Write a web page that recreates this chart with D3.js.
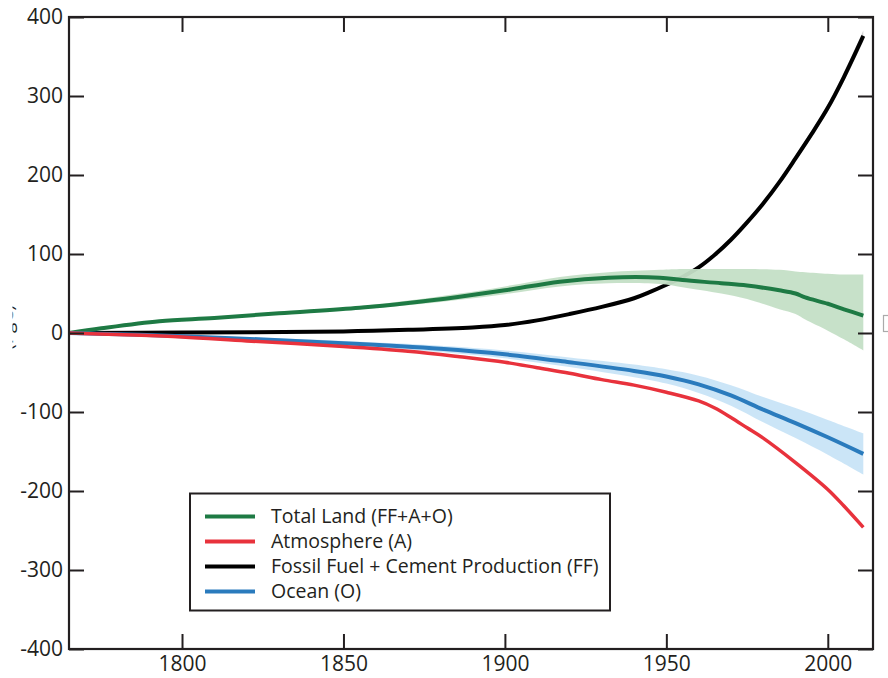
<!DOCTYPE html>
<html>
<head>
<meta charset="utf-8">
<script src="https://cdn.jsdelivr.net/npm/d3@7"></script>
<style>
  html, body { margin: 0; padding: 0; background: #fff; }
  svg { display: block; }
  text { font-family: "Open Sans", "Liberation Sans", sans-serif; fill: #231f20; }
</style>
</head>
<body>
<svg id="chart" width="888" height="678"></svg>
<script>
// ---- data ----
const xTicks = [1800, 1850, 1900, 1950, 2000];
const yTicks = [-400, -300, -200, -100, 0, 100, 200, 300, 400];

const ffYears  = [1765, 1800, 1850, 1870, 1890, 1900, 1910, 1920, 1930, 1940, 1945, 1950, 1955, 1960, 1965, 1970, 1975, 1980, 1985, 1990, 1995, 2000, 2005, 2011];
const ffValues = [0, 0.5, 2, 4, 7, 10, 16, 24, 33, 44, 52, 61, 71, 83, 99, 118, 140, 164, 191, 221, 252, 285, 324, 376];
const ffErr    = [0, 0, 0, 0, 0, 0, 0, 0, 0, 0, 1, 1, 1, 2, 2, 2, 3, 3, 3, 4, 4, 5, 6, 7];

const landYears  = [1765, 1775, 1793, 1810, 1830, 1855, 1870, 1886, 1900, 1917, 1932, 1948, 1955, 1967, 1975, 1985, 1990, 1993, 2000, 2005, 2011];
const landValues = [0, 6, 15, 19, 25, 32, 38, 46, 54, 65, 70, 70, 67, 63, 60, 54, 50, 45, 37, 30, 22];
const landUpper  = [0, 6, 15, 20, 26, 34, 41, 50, 59, 71, 77, 80, 81, 81, 81, 80, 78, 77, 75, 74, 74];
const landLower  = [0, 6, 15, 18, 24, 30, 35, 42, 49, 59, 63, 62, 58, 50, 43, 30, 24, 17, 3, -8, -22];

const atmYears  = [1765, 1780, 1800, 1820, 1850, 1870, 1886, 1900, 1910, 1920, 1930, 1940, 1950, 1960, 1965, 1970, 1975, 1980, 1990, 2000, 2005, 2011];
const atmValues = [0, -2, -5, -10, -17, -23, -30, -37, -44, -51, -59, -66, -75, -86, -95, -107, -120, -133, -164, -198, -219, -246];

const oceYears  = [1765, 1800, 1850, 1880, 1900, 1920, 1940, 1950, 1960, 1970, 1980, 1990, 2000, 2011];
const oceValues = [0, -4, -13, -20, -27, -37, -48, -55, -65, -79, -97, -114, -132, -153];
const oceErr    = [0, 1, 3, 4, 5, 6, 8, 9, 11, 13, 16, 19, 22, 26];

const legendLabels = ["Total Land (FF+A+O)", "Atmosphere (A)", "Fossil Fuel + Cement Production (FF)", "Ocean (O)"];
const legendColors = ["#1e7a44", "#e8323c", "#000000", "#2a7bbd"];

// ---- layout ----
const svg = d3.select("#chart");
const x = d3.scaleLinear().domain([1765, 2014]).range([69, 873]);
const y = d3.scaleLinear().domain([-400, 400]).range([649, 17]);

const defs = svg.append("defs");
defs.append("clipPath").attr("id", "plot")
  .append("rect").attr("x", 69).attr("y", 17).attr("width", 804).attr("height", 632);
defs.append("clipPath").attr("id", "titleclip")
  .append("rect").attr("x", 12.5).attr("y", 0).attr("width", 40).attr("height", 678);

const plot = svg.append("g").attr("clip-path", "url(#plot)");

function rows(years, vals, lo, hi) {
  return years.map((yr, i) => ({ yr, v: vals[i], lo: lo ? lo[i] : null, hi: hi ? hi[i] : null }));
}
const curve = d3.curveCatmullRom.alpha(0.5);
const line = d3.line().x(d => x(d.yr)).y(d => y(d.v)).curve(curve);
const area = d3.area().x(d => x(d.yr)).y0(d => y(d.lo)).y1(d => y(d.hi)).curve(curve);

const ff = rows(ffYears, ffValues, ffValues.map((v, i) => v - ffErr[i]), ffValues.map((v, i) => v + ffErr[i]));
const land = rows(landYears, landValues, landLower, landUpper);
const atm = rows(atmYears, atmValues);
const oce = rows(oceYears, oceValues, oceValues.map((v, i) => v - oceErr[i]), oceValues.map((v, i) => v + oceErr[i]));

// fossil fuel band + line
plot.append("path").datum(ff).attr("d", area).attr("fill", "#d6d6d6");
plot.append("path").datum(ff).attr("d", line).attr("fill", "none").attr("stroke", legendColors[2]).attr("stroke-width", 4);
// land band + line
plot.append("path").datum(land).attr("d", area).attr("fill", "#c4dfc6").attr("opacity", 0.95);
plot.append("path").datum(land).attr("d", line).attr("fill", "none").attr("stroke", legendColors[0]).attr("stroke-width", 4);
// ocean band + line
plot.append("path").datum(oce).attr("d", area).attr("fill", "#c8e4f7").attr("opacity", 0.95);
plot.append("path").datum(oce).attr("d", line).attr("fill", "none").attr("stroke", legendColors[3]).attr("stroke-width", 4);
// atmosphere line
plot.append("path").datum(atm).attr("d", line).attr("fill", "none").attr("stroke", legendColors[1]).attr("stroke-width", 3.5);

// ---- axes (inward ticks on all sides) ----
const tickLen = 15;
const fmt = d => String(d);
const axL = svg.append("g").attr("transform", "translate(69,0)")
  .call(d3.axisLeft(y).tickValues(yTicks).tickSize(-tickLen).tickPadding(6).tickFormat(fmt));
const axB = svg.append("g").attr("transform", "translate(0,649)")
  .call(d3.axisBottom(x).tickValues(xTicks).tickSize(-tickLen).tickPadding(7).tickFormat(fmt));
const axR = svg.append("g").attr("transform", "translate(873,0)")
  .call(d3.axisRight(y).tickValues(yTicks).tickSize(-tickLen).tickFormat(""));
const axT = svg.append("g").attr("transform", "translate(0,17)")
  .call(d3.axisTop(x).tickValues(xTicks).tickSize(-tickLen).tickFormat(""));
[axL, axB, axR, axT].forEach(g => {
  g.select(".domain").remove();
  g.selectAll(".tick line").attr("stroke", "#231f20").attr("stroke-width", 2);
  g.selectAll(".tick text").attr("font-size", 21).attr("fill", "#231f20")
    .attr("font-family", "'Open Sans', sans-serif");
});
svg.append("rect").attr("x", 69).attr("y", 17).attr("width", 804).attr("height", 632)
  .attr("fill", "none").attr("stroke", "#231f20").attr("stroke-width", 2.2);

// cropped y-axis title unit (only descenders visible at the image edge, as in the reference)
svg.append("g").attr("clip-path", "url(#titleclip)")
  .append("text")
  .attr("transform", "translate(12.5,305) rotate(-90)")
  .attr("text-anchor", "end")
  .attr("font-size", 19)
  .attr("fill", "#231f20")
  .text("(PgC)");

// cropped marker at right edge
svg.append("rect").attr("x", 883.5).attr("y", 315.5).attr("width", 12).attr("height", 16)
  .attr("fill", "none").attr("stroke", "#aaa").attr("stroke-width", 1.2);

// ---- legend ----
const leg = svg.append("g");
leg.append("rect").attr("x", 190).attr("y", 493.5).attr("width", 420).attr("height", 117)
  .attr("fill", "#fff").attr("stroke", "#231f20").attr("stroke-width", 2);
legendLabels.forEach((lab, i) => {
  const cy = 516.5 + i * 25;
  leg.append("line").attr("x1", 205).attr("x2", 255).attr("y1", cy).attr("y2", cy)
    .attr("stroke", legendColors[i]).attr("stroke-width", 4);
  leg.append("text").attr("x", 271).attr("y", cy).attr("dy", "0.35em")
    .attr("font-size", 19.5).text(lab);
});
</script>
</body>
</html>
